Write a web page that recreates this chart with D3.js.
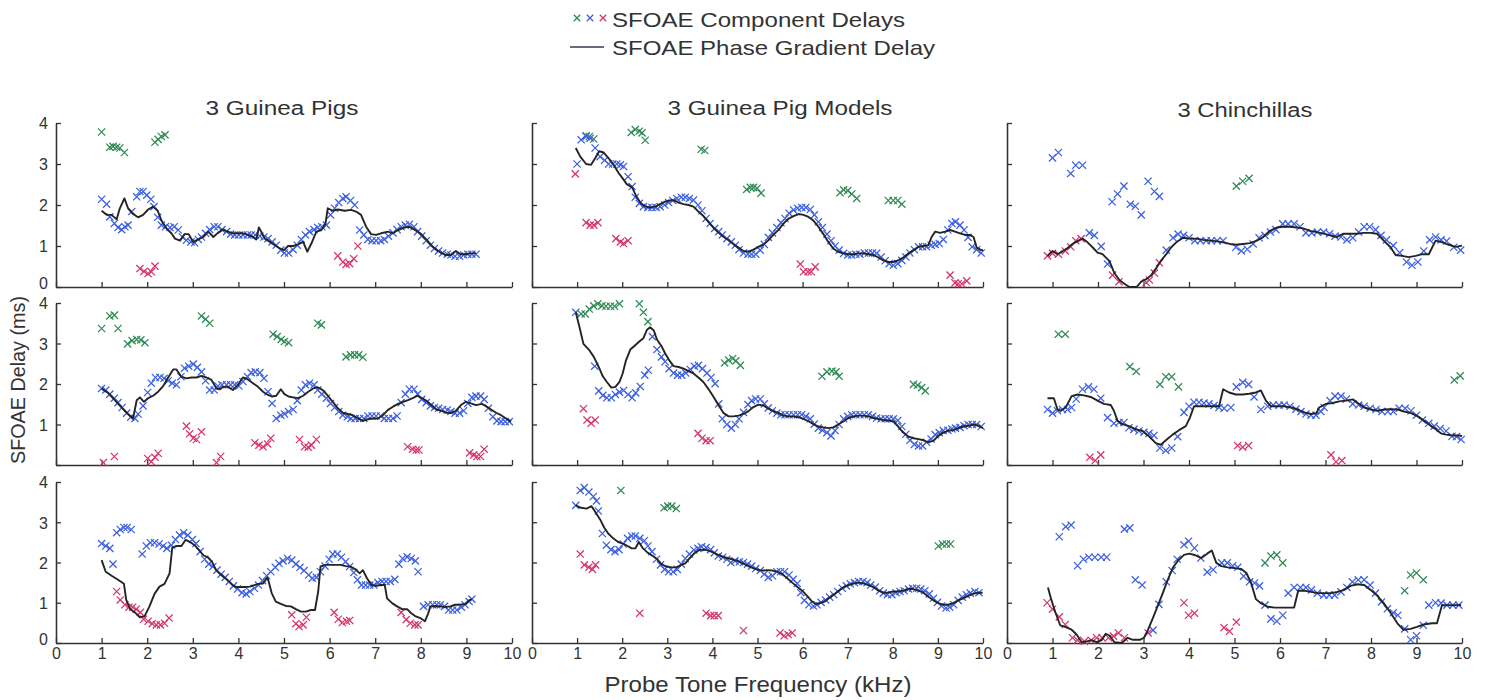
<!DOCTYPE html>
<html><head><meta charset="utf-8">
<script src="https://cdn.jsdelivr.net/npm/d3@7"></script>
<style>
html,body{margin:0;padding:0;background:#fff;}
svg{display:block;font-family:"Liberation Sans",Arial,Helvetica,sans-serif;}
</style></head>
<body><svg id="chart" width="1485" height="700"></svg>
<script>
// ---------------- DATA (frequency kHz, delay ms) ----------------
const columnTitles = ["3 Guinea Pigs", "3 Guinea Pig Models", "3 Chinchillas"];
const xTicks = [0,1,2,3,4,5,6,7,8,9,10];
const yTicks = [0,1,2,3,4];
const legendLabels = ["SFOAE Component Delays", "SFOAE Phase Gradient Delay"];
const xLabel = "Probe Tone Frequency (kHz)";
const yLabel = "SFOAE Delay (ms)";

// Row 1, Guinea Pigs
const gp1Blue = [[1.00,2.14],[1.11,2.02],[1.18,1.71],[1.28,1.55],[1.36,1.45],[1.44,1.40],[1.51,1.47],[1.58,1.51],[1.66,1.84],[1.77,2.20],[1.84,2.33],[1.91,2.33],[1.99,2.24],[2.08,2.14],[2.15,1.96],[2.23,1.70],[2.31,1.51],[2.40,1.47],[2.50,1.45],[2.59,1.47],[2.68,1.39],[2.77,1.22],[2.86,1.14],[2.96,1.10],[3.04,1.08],[3.12,1.16],[3.19,1.22],[3.28,1.31],[3.37,1.40],[3.47,1.47],[3.55,1.47],[3.64,1.40],[3.74,1.35],[3.83,1.29],[3.92,1.27],[4.01,1.27],[4.10,1.27],[4.20,1.27],[4.28,1.27],[4.37,1.27],[4.47,1.24],[4.56,1.22],[4.65,1.18],[4.74,1.10],[4.83,1.02],[4.93,0.90],[5.01,0.83],[5.10,0.83],[5.20,0.91],[5.29,1.02],[5.38,1.16],[5.47,1.27],[5.56,1.35],[5.66,1.40],[5.74,1.45],[5.83,1.47],[5.93,1.51],[6.02,1.76],[6.11,1.92],[6.20,2.06],[6.29,2.16],[6.36,2.20],[6.46,2.11],[6.55,2.00],[6.66,1.39],[6.75,1.27],[6.84,1.16],[6.93,1.13],[7.02,1.13],[7.12,1.13],[7.20,1.16],[7.29,1.24],[7.39,1.32],[7.48,1.40],[7.57,1.47],[7.66,1.51],[7.75,1.53],[7.85,1.47],[7.93,1.35],[8.02,1.24],[8.12,1.13],[8.21,1.02],[8.30,0.94],[8.39,0.88],[8.48,0.83],[8.58,0.80],[8.66,0.78],[8.75,0.75],[8.85,0.75],[8.94,0.78],[9.03,0.80],[9.12,0.80],[9.21,0.80]];
const gp1Green = [[1.00,3.78],[1.18,3.41],[1.25,3.43],[1.33,3.41],[1.40,3.39],[1.50,3.28],[2.17,3.53],[2.24,3.60],[2.31,3.67],[2.39,3.71]];
const gp1Pink = [[1.84,0.45],[1.93,0.38],[2.02,0.33],[2.09,0.37],[2.17,0.51],[6.18,0.76],[6.29,0.61],[6.36,0.55],[6.44,0.57],[6.53,0.69],[6.62,1.00]];
const gp1Line = [[1.00,1.86],[1.11,1.76],[1.22,1.76],[1.33,1.65],[1.40,1.92],[1.50,2.16],[1.58,1.92],[1.69,1.78],[1.80,1.70],[1.91,1.76],[2.02,1.89],[2.13,1.96],[2.23,1.86],[2.31,1.63],[2.42,1.43],[2.53,1.31],[2.61,1.18],[2.72,1.13],[2.82,1.29],[2.91,1.29],[3.01,1.10],[3.12,1.16],[3.23,1.22],[3.34,1.35],[3.45,1.22],[3.55,1.32],[3.66,1.40],[3.77,1.35],[3.88,1.31],[3.99,1.31],[4.10,1.31],[4.21,1.27],[4.32,1.22],[4.39,1.16],[4.45,1.45],[4.50,1.35],[4.58,1.18],[4.69,1.10],[4.80,1.02],[4.91,0.94],[5.00,0.90],[5.09,1.00],[5.20,1.00],[5.31,1.04],[5.42,1.10],[5.51,0.86],[5.60,1.06],[5.71,1.35],[5.82,1.39],[5.91,1.55],[5.96,1.92],[6.07,1.86],[6.18,1.89],[6.33,1.86],[6.47,1.88],[6.58,1.84],[6.69,1.76],[6.80,1.47],[6.91,1.29],[7.02,1.27],[7.13,1.31],[7.28,1.35],[7.39,1.31],[7.50,1.39],[7.64,1.45],[7.75,1.47],[7.86,1.40],[7.99,1.31],[8.12,1.16],[8.23,1.02],[8.34,0.91],[8.45,0.83],[8.55,0.78],[8.66,0.78],[8.77,0.88],[8.87,0.80],[8.97,0.80],[9.10,0.82],[9.21,0.82]];

// Row 1, Guinea Pig Models
const gm1Blue = [[1.00,3.00],[1.09,3.59],[1.20,3.67],[1.29,3.63],[1.40,3.39],[1.51,3.18],[1.61,3.09],[1.70,3.00],[1.79,3.00],[1.88,3.00],[1.96,2.98],[2.03,2.94],[2.13,2.69],[2.22,2.45],[2.29,2.19],[2.38,2.04],[2.47,1.96],[2.57,1.94],[2.66,1.94],[2.75,1.94],[2.84,1.96],[2.94,2.00],[3.03,2.06],[3.12,2.11],[3.21,2.16],[3.31,2.19],[3.40,2.19],[3.49,2.16],[3.58,2.12],[3.68,2.00],[3.77,1.86],[3.86,1.67],[3.95,1.55],[4.05,1.43],[4.14,1.35],[4.22,1.27],[4.32,1.18],[4.42,1.10],[4.51,1.02],[4.59,0.91],[4.69,0.83],[4.79,0.80],[4.87,0.80],[4.96,0.80],[5.06,0.90],[5.15,1.04],[5.24,1.21],[5.33,1.32],[5.43,1.45],[5.52,1.57],[5.61,1.67],[5.70,1.80],[5.80,1.88],[5.89,1.92],[5.98,1.94],[6.07,1.94],[6.17,1.89],[6.26,1.76],[6.35,1.59],[6.44,1.45],[6.54,1.29],[6.63,1.13],[6.72,1.00],[6.81,0.90],[6.91,0.82],[7.00,0.78],[7.09,0.78],[7.18,0.80],[7.27,0.80],[7.37,0.83],[7.46,0.83],[7.55,0.83],[7.64,0.82],[7.74,0.73],[7.83,0.64],[7.92,0.57],[8.01,0.53],[8.11,0.57],[8.20,0.65],[8.29,0.73],[8.38,0.83],[8.48,0.91],[8.57,0.98],[8.66,0.98],[8.75,0.98],[8.85,1.02],[8.94,1.04],[9.03,1.06],[9.12,1.16],[9.22,1.39],[9.31,1.55],[9.39,1.59],[9.49,1.51],[9.58,1.39],[9.67,1.21],[9.76,0.98],[9.86,0.91],[9.96,0.83]];
const gm1Green = [[1.20,3.69],[1.27,3.67],[1.37,3.61],[2.20,3.77],[2.29,3.84],[2.38,3.80],[2.44,3.76],[2.51,3.58],[3.75,3.36],[3.83,3.33],[4.76,2.38],[4.84,2.43],[4.91,2.43],[4.99,2.41],[5.08,2.29],[6.83,2.30],[6.91,2.37],[7.00,2.35],[7.09,2.27],[7.20,2.16],[7.90,2.11],[8.01,2.11],[8.11,2.11],[8.20,2.02]];
const gm1Pink = [[0.96,2.76],[1.20,1.57],[1.29,1.51],[1.37,1.51],[1.46,1.57],[1.86,1.18],[1.96,1.10],[2.03,1.06],[2.13,1.13],[5.95,0.56],[6.02,0.37],[6.12,0.37],[6.19,0.37],[6.28,0.49],[9.27,0.29],[9.38,0.10],[9.45,0.08],[9.53,0.08],[9.64,0.15]];
const gm1Line = [[0.97,3.39],[1.07,3.18],[1.20,3.00],[1.31,2.98],[1.40,3.14],[1.49,3.31],[1.59,3.28],[1.70,3.14],[1.81,2.98],[1.92,2.78],[2.01,2.65],[2.10,2.51],[2.22,2.43],[2.30,2.24],[2.40,2.06],[2.51,1.96],[2.62,1.94],[2.73,1.96],[2.84,2.02],[2.95,2.08],[3.04,2.11],[3.14,2.12],[3.25,2.06],[3.36,2.02],[3.47,2.00],[3.58,1.96],[3.69,1.84],[3.80,1.73],[3.91,1.59],[4.02,1.45],[4.14,1.32],[4.25,1.22],[4.36,1.14],[4.47,1.04],[4.58,0.96],[4.69,0.88],[4.80,0.86],[4.91,0.91],[5.02,0.98],[5.13,1.04],[5.24,1.14],[5.35,1.27],[5.47,1.40],[5.58,1.55],[5.69,1.67],[5.80,1.73],[5.91,1.78],[6.02,1.76],[6.13,1.71],[6.24,1.62],[6.35,1.47],[6.46,1.29],[6.57,1.10],[6.68,0.94],[6.79,0.86],[6.91,0.82],[7.02,0.80],[7.13,0.80],[7.24,0.82],[7.35,0.82],[7.46,0.80],[7.57,0.78],[7.68,0.72],[7.79,0.65],[7.90,0.61],[8.01,0.61],[8.12,0.65],[8.23,0.72],[8.35,0.82],[8.46,0.90],[8.57,0.98],[8.68,1.00],[8.79,1.02],[8.86,1.22],[8.94,1.35],[9.05,1.32],[9.16,1.35],[9.27,1.39],[9.38,1.35],[9.49,1.31],[9.60,1.27],[9.71,1.27],[9.79,1.22],[9.86,0.96],[9.96,0.90],[10.0,0.90]];

// Row 1, Chinchillas
const ch1Blue = [[1.00,3.15],[1.13,3.28],[1.40,2.77],[1.51,2.97],[1.66,2.97],[1.81,1.32],[1.92,1.26],[2.07,0.99],[2.21,0.56],[2.31,2.08],[2.43,2.27],[2.57,2.46],[2.71,2.02],[2.82,1.97],[2.95,1.76],[3.10,2.58],[3.24,2.33],[3.35,2.21],[3.50,0.90],[3.65,1.20],[3.76,1.29],[3.88,1.26],[4.00,1.20],[4.13,1.13],[4.25,1.13],[4.38,1.13],[4.49,1.13],[4.62,1.13],[4.75,1.13],[5.03,0.97],[5.15,0.88],[5.28,0.92],[5.41,1.05],[5.54,1.20],[5.67,1.26],[5.79,1.34],[5.91,1.40],[6.06,1.54],[6.18,1.54],[6.31,1.54],[6.44,1.47],[6.57,1.32],[6.70,1.32],[6.82,1.34],[6.96,1.34],[7.09,1.30],[7.21,1.24],[7.34,1.22],[7.47,1.15],[7.60,1.20],[7.73,1.34],[7.85,1.47],[7.97,1.47],[8.10,1.40],[8.22,1.26],[8.34,1.15],[8.49,1.01],[8.63,0.84],[8.78,0.61],[8.90,0.53],[9.03,0.61],[9.16,0.88],[9.29,1.15],[9.42,1.22],[9.54,1.15],[9.66,1.12],[9.82,0.97],[9.97,0.90]];
const ch1Green = [[5.04,2.46],[5.18,2.58],[5.32,2.65]];
const ch1Pink = [[0.89,0.76],[1.00,0.82],[1.13,0.80],[1.28,0.88],[1.40,0.98],[1.51,1.13],[1.63,1.18],[2.32,0.29],[2.46,0.13],[3.06,0.11],[3.13,0.17],[3.24,0.34],[3.35,0.59]];
const ch1Line = [[0.89,0.76],[1.00,0.88],[1.11,0.80],[1.22,0.87],[1.33,0.95],[1.44,1.05],[1.55,1.12],[1.66,1.18],[1.77,1.09],[1.88,0.97],[1.99,0.84],[2.10,0.80],[2.18,0.71],[2.25,0.63],[2.36,0.34],[2.47,0.17],[2.58,0.08],[2.69,0.00],[2.85,0.00],[2.95,0.13],[3.06,0.19],[3.17,0.29],[3.28,0.46],[3.39,0.65],[3.50,0.80],[3.61,0.97],[3.72,1.09],[3.87,1.20],[4.01,1.18],[4.16,1.18],[4.31,1.15],[4.46,1.13],[4.60,1.12],[4.75,1.09],[4.90,1.05],[5.04,1.03],[5.19,1.05],[5.34,1.07],[5.49,1.13],[5.63,1.22],[5.78,1.37],[5.93,1.45],[6.07,1.47],[6.22,1.47],[6.37,1.45],[6.51,1.43],[6.66,1.37],[6.81,1.34],[6.96,1.30],[7.10,1.26],[7.25,1.22],[7.40,1.30],[7.54,1.30],[7.69,1.30],[7.84,1.32],[7.99,1.32],[8.13,1.30],[8.28,1.13],[8.43,0.97],[8.54,0.78],[8.68,0.76],[8.83,0.73],[8.98,0.76],[9.13,0.80],[9.27,0.80],[9.42,1.13],[9.57,1.09],[9.71,1.03],[9.86,0.98],[10.0,1.01]];

// Row 2, Guinea Pigs
const gp2Blue = [[1.00,1.89],[1.09,1.85],[1.18,1.75],[1.28,1.65],[1.36,1.54],[1.45,1.42],[1.55,1.28],[1.64,1.18],[1.73,1.15],[1.80,1.26],[1.91,1.46],[2.01,1.79],[2.09,2.02],[2.18,2.16],[2.28,2.16],[2.37,2.14],[2.46,2.08],[2.55,2.02],[2.64,1.98],[2.74,2.18],[2.82,2.39],[2.91,2.44],[3.01,2.49],[3.10,2.41],[3.19,2.30],[3.28,2.08],[3.37,1.85],[3.47,1.85],[3.55,1.95],[3.64,1.98],[3.74,1.98],[3.83,1.98],[3.92,1.98],[4.01,1.95],[4.10,2.06],[4.20,2.18],[4.28,2.28],[4.37,2.30],[4.47,2.28],[4.56,2.14],[4.65,1.81],[4.74,1.52],[4.83,1.15],[4.93,1.23],[5.01,1.26],[5.10,1.32],[5.20,1.37],[5.29,1.59],[5.38,1.85],[5.47,1.98],[5.56,2.02],[5.66,1.98],[5.74,1.85],[5.83,1.75],[5.93,1.65],[6.02,1.52],[6.11,1.42],[6.20,1.32],[6.29,1.23],[6.39,1.19],[6.47,1.15],[6.56,1.15],[6.66,1.15],[6.75,1.15],[6.84,1.21],[6.93,1.21],[7.02,1.21],[7.12,1.21],[7.20,1.15],[7.29,1.15],[7.39,1.15],[7.48,1.21],[7.57,1.54],[7.66,1.75],[7.75,1.87],[7.85,1.87],[7.93,1.75],[8.02,1.62],[8.12,1.54],[8.21,1.46],[8.30,1.42],[8.39,1.40],[8.48,1.37],[8.58,1.36],[8.66,1.32],[8.75,1.28],[8.85,1.28],[8.94,1.34],[9.03,1.52],[9.12,1.67],[9.21,1.70],[9.31,1.70],[9.39,1.62],[9.48,1.40],[9.58,1.19],[9.67,1.09],[9.76,1.07],[9.85,1.07],[9.94,1.07]];
const gp2Green = [[1.00,3.37],[1.18,3.68],[1.28,3.70],[1.36,3.37],[1.57,2.99],[1.67,3.07],[1.77,3.10],[1.86,3.09],[1.95,3.02],[3.19,3.68],[3.28,3.60],[3.37,3.50],[4.76,3.23],[4.85,3.17],[4.94,3.10],[5.01,3.05],[5.10,3.02],[5.74,3.50],[5.82,3.46],[6.36,2.67],[6.46,2.72],[6.55,2.72],[6.64,2.72],[6.73,2.66]];
const gp2Pink = [[1.04,0.06],[1.28,0.21],[2.01,0.16],[2.09,0.08],[2.17,0.19],[2.24,0.29],[2.86,0.96],[2.93,0.77],[3.01,0.66],[3.08,0.63],[3.19,0.82],[3.52,0.06],[3.61,0.21],[4.36,0.55],[4.45,0.49],[4.54,0.45],[4.64,0.52],[4.71,0.66],[5.34,0.63],[5.45,0.45],[5.53,0.44],[5.60,0.49],[5.71,0.63],[7.71,0.45],[7.82,0.39],[7.90,0.37],[7.96,0.37],[9.07,0.30],[9.16,0.25],[9.23,0.21],[9.31,0.21],[9.39,0.39]];
const gp2Line = [[1.00,1.89],[1.15,1.77],[1.29,1.60],[1.44,1.42],[1.58,1.26],[1.69,1.15],[1.77,1.60],[1.84,1.67],[1.93,1.56],[2.02,1.65],[2.13,1.71],[2.24,1.81],[2.35,1.95],[2.46,2.16],[2.57,2.36],[2.64,2.36],[2.75,2.18],[2.86,2.14],[2.97,2.16],[3.08,2.16],[3.19,2.20],[3.30,2.16],[3.41,2.10],[3.52,1.89],[3.59,1.87],[3.66,1.93],[3.77,1.93],[3.88,1.85],[3.99,1.98],[4.10,2.16],[4.20,2.12],[4.32,2.02],[4.43,1.93],[4.54,1.81],[4.65,1.73],[4.74,1.69],[4.83,1.71],[4.93,1.87],[5.01,1.75],[5.10,1.69],[5.20,1.67],[5.31,1.65],[5.42,1.71],[5.53,1.81],[5.64,1.89],[5.74,1.92],[5.85,1.85],[5.96,1.71],[6.07,1.56],[6.18,1.40],[6.29,1.29],[6.40,1.26],[6.51,1.23],[6.62,1.15],[6.73,1.09],[6.84,1.13],[6.95,1.15],[7.06,1.15],[7.17,1.23],[7.28,1.36],[7.39,1.44],[7.50,1.51],[7.61,1.56],[7.72,1.60],[7.82,1.65],[7.93,1.71],[8.02,1.65],[8.12,1.59],[8.23,1.48],[8.34,1.37],[8.45,1.34],[8.55,1.29],[8.66,1.28],[8.77,1.34],[8.88,1.48],[8.99,1.56],[9.10,1.52],[9.21,1.48],[9.34,1.51],[9.42,1.46],[9.54,1.37],[9.65,1.29],[9.76,1.23],[9.87,1.15],[9.98,1.07]];

// Row 2, Guinea Pig Models
const gm2Blue = [[0.97,3.77],[1.39,2.44],[1.48,1.83],[1.57,1.72],[1.66,1.66],[1.76,1.66],[1.85,1.74],[1.94,1.80],[2.03,1.84],[2.13,1.74],[2.22,1.66],[2.30,1.78],[2.40,1.94],[2.50,2.22],[2.58,2.34],[2.67,3.17],[2.77,2.85],[2.87,2.67],[2.95,2.55],[3.04,2.38],[3.14,2.27],[3.23,2.22],[3.32,2.22],[3.41,2.27],[3.51,2.36],[3.60,2.44],[3.69,2.46],[3.78,2.38],[3.88,2.27],[3.97,2.16],[4.06,2.01],[4.14,1.51],[4.22,1.14],[4.32,1.00],[4.42,0.91],[4.51,1.00],[4.59,1.14],[4.69,1.30],[4.79,1.49],[4.87,1.59],[4.96,1.63],[5.06,1.63],[5.15,1.51],[5.24,1.41],[5.33,1.34],[5.43,1.28],[5.52,1.24],[5.61,1.24],[5.70,1.24],[5.80,1.24],[5.89,1.24],[5.98,1.24],[6.07,1.20],[6.17,1.14],[6.26,1.01],[6.35,0.91],[6.44,0.86],[6.54,0.80],[6.63,0.72],[6.72,0.85],[6.81,1.00],[6.91,1.14],[7.00,1.20],[7.09,1.24],[7.18,1.24],[7.27,1.24],[7.37,1.24],[7.46,1.24],[7.55,1.20],[7.64,1.16],[7.74,1.14],[7.83,1.14],[7.92,1.14],[8.01,1.14],[8.11,1.10],[8.20,0.95],[8.29,0.76],[8.38,0.61],[8.48,0.51],[8.57,0.47],[8.66,0.47],[8.75,0.56],[8.85,0.64],[8.94,0.75],[9.03,0.80],[9.12,0.85],[9.22,0.86],[9.31,0.89],[9.39,0.91],[9.49,0.93],[9.58,0.97],[9.67,1.00],[9.76,1.00],[9.86,1.00],[9.96,0.95]];
const gm2Green = [[1.09,3.73],[1.18,3.73],[1.27,3.85],[1.37,3.93],[1.46,3.98],[1.55,3.93],[1.64,3.92],[1.74,3.92],[1.83,3.92],[1.94,3.98],[2.38,3.98],[2.47,3.77],[2.57,3.54],[4.27,2.52],[4.36,2.59],[4.45,2.63],[4.52,2.57],[4.62,2.46],[6.43,2.19],[6.54,2.30],[6.65,2.32],[6.74,2.30],[6.81,2.19],[8.46,1.99],[8.55,1.97],[8.64,1.91],[8.72,1.83]];
const gm2Pink = [[1.14,1.39],[1.22,1.11],[1.31,1.03],[1.40,1.11],[3.68,0.78],[3.77,0.66],[3.86,0.60],[3.95,0.60]];
const gm2Line = [[0.97,3.77],[1.05,3.42],[1.14,2.99],[1.26,2.85],[1.37,2.67],[1.48,2.42],[1.57,2.19],[1.66,2.05],[1.76,1.91],[1.85,1.93],[1.94,2.05],[2.01,2.26],[2.08,2.57],[2.18,2.85],[2.27,2.94],[2.38,3.05],[2.47,3.13],[2.55,3.34],[2.62,3.40],[2.70,3.32],[2.77,3.10],[2.87,2.94],[2.95,2.76],[3.04,2.59],[3.14,2.44],[3.25,2.42],[3.36,2.38],[3.47,2.32],[3.58,2.26],[3.69,2.16],[3.80,2.05],[3.91,1.88],[4.02,1.69],[4.14,1.47],[4.25,1.28],[4.36,1.20],[4.47,1.20],[4.58,1.22],[4.69,1.26],[4.80,1.33],[4.91,1.43],[5.02,1.49],[5.13,1.47],[5.24,1.39],[5.35,1.33],[5.47,1.28],[5.58,1.22],[5.69,1.20],[5.80,1.20],[5.91,1.18],[6.02,1.14],[6.13,1.08],[6.24,1.01],[6.35,0.95],[6.46,0.93],[6.57,0.91],[6.68,0.93],[6.79,1.00],[6.91,1.08],[7.02,1.16],[7.13,1.20],[7.24,1.22],[7.35,1.22],[7.46,1.20],[7.57,1.16],[7.68,1.14],[7.79,1.11],[7.90,1.10],[8.01,1.08],[8.12,0.95],[8.23,0.80],[8.35,0.70],[8.46,0.66],[8.57,0.64],[8.68,0.61],[8.79,0.56],[8.90,0.60],[9.01,0.72],[9.12,0.80],[9.23,0.85],[9.34,0.86],[9.45,0.91],[9.56,0.95],[9.68,0.97],[9.79,1.00],[9.90,0.97],[10.0,0.91]];

// Row 2, Chinchillas
const ch2Blue = [[0.89,1.37],[1.00,1.28],[1.11,1.34],[1.22,1.37],[1.33,1.37],[1.42,1.42],[1.52,1.63],[1.66,1.87],[1.79,1.93],[1.91,1.87],[2.06,1.65],[2.21,1.17],[2.35,1.03],[2.46,1.05],[2.57,1.05],[2.68,0.92],[2.79,0.88],[2.90,0.84],[3.01,0.81],[3.12,0.78],[3.23,0.73],[3.36,0.42],[3.49,0.36],[3.62,0.42],[3.75,0.70],[3.89,1.30],[4.00,1.45],[4.11,1.55],[4.22,1.55],[4.33,1.53],[4.44,1.51],[4.55,1.47],[4.66,1.42],[4.77,1.40],[4.92,1.42],[5.04,1.93],[5.18,2.04],[5.31,1.99],[5.43,1.68],[5.58,1.37],[5.73,1.45],[5.85,1.48],[5.98,1.48],[6.09,1.48],[6.22,1.45],[6.35,1.38],[6.46,1.32],[6.57,1.26],[6.68,1.23],[6.79,1.23],[6.90,1.32],[6.97,1.42],[7.10,1.59],[7.21,1.70],[7.34,1.70],[7.46,1.63],[7.60,1.51],[7.73,1.48],[7.85,1.45],[7.98,1.40],[8.11,1.37],[8.24,1.32],[8.37,1.32],[8.49,1.32],[8.62,1.40],[8.75,1.40],[8.88,1.34],[9.00,1.23],[9.13,1.11],[9.27,1.03],[9.39,0.96],[9.52,0.90],[9.65,0.84],[9.78,0.71],[9.88,0.70],[9.98,0.63]];
const ch2Green = [[1.13,3.23],[1.28,3.23],[2.70,2.43],[2.84,2.31],[3.36,1.99],[3.49,2.18],[3.62,2.18],[3.77,1.93],[9.83,2.10],[9.96,2.20]];
const ch2Pink = [[1.82,0.19],[1.94,0.11],[2.06,0.25],[5.07,0.48],[5.18,0.44],[5.31,0.48],[7.12,0.25],[7.23,0.08],[7.36,0.11]];
const ch2Line = [[0.89,1.65],[1.03,1.65],[1.11,1.37],[1.18,1.34],[1.29,1.42],[1.42,1.70],[1.55,1.74],[1.69,1.72],[1.84,1.68],[1.99,1.59],[2.13,1.51],[2.28,1.48],[2.35,1.34],[2.43,1.09],[2.54,1.01],[2.68,0.96],[2.83,0.88],[2.98,0.84],[3.12,0.71],[3.27,0.54],[3.38,0.50],[3.53,0.65],[3.64,0.75],[3.78,0.86],[3.93,0.96],[4.02,1.17],[4.11,1.45],[4.26,1.45],[4.41,1.45],[4.55,1.45],[4.66,1.45],[4.75,1.87],[4.88,1.79],[5.03,1.74],[5.18,1.74],[5.32,1.76],[5.47,1.79],[5.58,1.84],[5.69,1.59],[5.80,1.45],[5.95,1.45],[6.09,1.45],[6.24,1.42],[6.39,1.37],[6.53,1.30],[6.68,1.26],[6.80,1.28],[6.86,1.42],[7.01,1.51],[7.16,1.53],[7.30,1.57],[7.45,1.59],[7.60,1.62],[7.71,1.53],[7.85,1.42],[8.00,1.37],[8.15,1.34],[8.29,1.37],[8.44,1.38],[8.59,1.37],[8.73,1.32],[8.88,1.28],[9.03,1.20],[9.17,1.09],[9.32,0.96],[9.43,0.88],[9.54,0.78],[9.65,0.75],[9.79,0.73],[9.94,0.73],[10.0,0.71]];

// Row 3, Guinea Pigs
const gp3Blue = [[1.00,2.47],[1.09,2.41],[1.18,2.35],[1.25,1.96],[1.33,2.74],[1.41,2.82],[1.49,2.87],[1.56,2.87],[1.65,2.82],[1.89,2.21],[1.98,2.41],[2.07,2.49],[2.16,2.49],[2.26,2.46],[2.35,2.41],[2.43,2.35],[2.53,2.43],[2.62,2.57],[2.71,2.68],[2.80,2.74],[2.89,2.68],[2.99,2.57],[3.07,2.47],[3.16,2.27],[3.26,2.08],[3.35,1.96],[3.44,1.90],[3.53,1.81],[3.62,1.71],[3.71,1.63],[3.80,1.53],[3.89,1.42],[3.98,1.34],[4.08,1.25],[4.17,1.22],[4.25,1.28],[4.35,1.36],[4.44,1.44],[4.53,1.55],[4.62,1.67],[4.71,1.77],[4.81,1.88],[4.89,1.98],[4.98,2.04],[5.08,2.10],[5.17,2.06],[5.26,1.96],[5.35,1.88],[5.44,1.80],[5.54,1.69],[5.62,1.61],[5.71,1.63],[5.80,1.77],[5.90,1.91],[5.99,2.08],[6.07,2.21],[6.17,2.21],[6.26,2.13],[6.35,2.02],[6.44,1.90],[6.53,1.75],[6.61,1.57],[6.70,1.44],[6.79,1.44],[6.88,1.44],[6.97,1.44],[7.06,1.50],[7.15,1.53],[7.24,1.53],[7.33,1.53],[7.43,1.58],[7.52,1.96],[7.60,2.10],[7.70,2.14],[7.79,2.10],[7.88,2.04],[7.94,1.77],[8.06,0.91],[8.16,0.95],[8.26,0.95],[8.35,0.95],[8.43,0.95],[8.52,0.91],[8.61,0.82],[8.70,0.82],[8.79,0.82],[8.89,0.89],[8.97,0.95],[9.06,1.03],[9.12,1.09]];
const gp3Green = [];
const gp3Pink = [[1.33,1.28],[1.41,1.07],[1.51,0.95],[1.60,0.89],[1.68,0.89],[1.76,0.84],[1.85,0.76],[1.92,0.59],[2.02,0.54],[2.11,0.48],[2.20,0.45],[2.29,0.45],[2.38,0.49],[2.48,0.62],[5.17,0.70],[5.26,0.48],[5.33,0.41],[5.42,0.45],[5.49,0.64],[6.10,0.76],[6.19,0.59],[6.28,0.51],[6.37,0.54],[6.44,0.56],[7.57,0.76],[7.68,0.58],[7.77,0.49],[7.87,0.45],[7.94,0.45]];
const gp3Line = [[1.00,2.06],[1.09,1.77],[1.22,1.67],[1.36,1.57],[1.49,1.47],[1.54,1.07],[1.63,0.84],[1.73,0.76],[1.84,0.64],[1.94,0.66],[2.05,0.91],[2.16,1.22],[2.27,1.40],[2.38,1.47],[2.49,1.73],[2.55,2.37],[2.64,2.41],[2.75,2.41],[2.84,2.56],[2.94,2.51],[3.04,2.43],[3.13,2.32],[3.23,2.18],[3.33,2.13],[3.42,2.02],[3.51,1.81],[3.60,1.71],[3.69,1.63],[3.79,1.53],[3.87,1.44],[3.96,1.39],[4.06,1.39],[4.15,1.39],[4.25,1.40],[4.35,1.44],[4.44,1.47],[4.54,1.48],[4.64,1.63],[4.73,1.24],[4.82,1.03],[4.93,0.97],[5.04,0.92],[5.15,0.91],[5.26,0.84],[5.37,0.78],[5.48,0.78],[5.59,0.82],[5.68,0.82],[5.75,1.28],[5.80,1.90],[5.91,1.94],[6.02,1.94],[6.13,1.94],[6.24,1.94],[6.35,1.91],[6.46,1.90],[6.57,1.83],[6.66,1.73],[6.73,1.81],[6.82,1.61],[6.92,1.44],[7.02,1.42],[7.12,1.44],[7.21,1.44],[7.26,1.11],[7.37,0.99],[7.48,0.91],[7.59,0.84],[7.70,0.84],[7.79,0.74],[7.89,0.66],[7.99,0.62],[8.09,0.54],[8.16,0.73],[8.21,0.91],[8.32,0.92],[8.43,0.91],[8.53,0.89],[8.65,0.91],[8.75,0.95],[8.86,0.95],[8.97,0.97],[9.06,1.06],[9.12,1.09]];

// Row 3, Guinea Pig Models
const gm3Blue = [[0.97,3.42],[1.07,3.79],[1.16,3.86],[1.26,3.75],[1.36,3.64],[1.43,3.53],[1.47,3.28],[1.56,2.72],[1.65,2.43],[1.75,2.32],[1.84,2.27],[1.93,2.32],[2.02,2.46],[2.12,2.60],[2.21,2.66],[2.29,2.66],[2.39,2.60],[2.49,2.54],[2.57,2.41],[2.66,2.27],[2.76,2.08],[2.85,1.94],[2.94,1.83],[3.03,1.77],[3.13,1.77],[3.22,1.83],[3.31,1.96],[3.40,2.10],[3.49,2.21],[3.59,2.31],[3.68,2.35],[3.76,2.39],[3.86,2.37],[3.96,2.32],[4.04,2.24],[4.13,2.16],[4.23,2.13],[4.32,2.08],[4.41,2.00],[4.50,2.04],[4.60,2.02],[4.69,2.00],[4.78,1.96],[4.87,1.91],[4.96,1.85],[5.06,1.80],[5.15,1.71],[5.24,1.63],[5.33,1.67],[5.43,1.77],[5.51,1.77],[5.60,1.77],[5.70,1.69],[5.79,1.58],[5.88,1.48],[5.96,1.25],[6.04,1.06],[6.14,0.95],[6.24,0.92],[6.32,0.95],[6.41,1.01],[6.51,1.07],[6.60,1.14],[6.69,1.20],[6.78,1.28],[6.88,1.36],[6.97,1.42],[7.06,1.47],[7.15,1.50],[7.24,1.53],[7.34,1.53],[7.43,1.50],[7.51,1.44],[7.61,1.39],[7.71,1.30],[7.79,1.24],[7.88,1.20],[7.98,1.20],[8.07,1.25],[8.16,1.28],[8.25,1.30],[8.35,1.34],[8.44,1.36],[8.53,1.36],[8.62,1.34],[8.71,1.30],[8.81,1.22],[8.90,1.11],[8.99,1.01],[9.08,0.92],[9.18,0.87],[9.26,0.89],[9.35,0.95],[9.45,1.06],[9.54,1.14],[9.63,1.20],[9.72,1.24],[9.82,1.28],[9.91,1.25]];
const gm3Green = [[1.97,3.79],[2.93,3.36],[3.01,3.40],[3.10,3.40],[3.20,3.34],[9.01,2.41],[9.10,2.46],[9.19,2.46],[9.28,2.46]];
const gm3Pink = [[1.07,2.21],[1.16,1.94],[1.26,1.88],[1.34,1.83],[1.41,1.94],[2.39,0.74],[3.86,0.74],[3.96,0.68],[4.04,0.68],[4.13,0.68],[4.69,0.31],[5.50,0.25],[5.59,0.18],[5.68,0.21],[5.77,0.25]];
const gm3Line = [[0.97,3.42],[1.09,3.36],[1.21,3.34],[1.32,3.40],[1.40,3.26],[1.51,3.07],[1.60,2.87],[1.69,2.72],[1.80,2.60],[1.91,2.51],[2.02,2.47],[2.12,2.41],[2.21,2.35],[2.29,2.35],[2.37,2.51],[2.46,2.35],[2.57,2.24],[2.68,2.16],[2.78,2.08],[2.87,1.96],[2.98,1.90],[3.09,1.88],[3.20,1.88],[3.31,1.94],[3.40,1.98],[3.49,2.10],[3.60,2.23],[3.71,2.31],[3.82,2.32],[3.93,2.29],[4.04,2.24],[4.15,2.18],[4.26,2.13],[4.38,2.10],[4.49,2.06],[4.60,2.02],[4.71,1.96],[4.82,1.90],[4.93,1.85],[5.04,1.81],[5.13,1.80],[5.22,1.81],[5.33,1.80],[5.44,1.77],[5.55,1.71],[5.66,1.61],[5.77,1.50],[5.88,1.40],[5.99,1.30],[6.10,1.17],[6.21,1.03],[6.29,0.97],[6.38,0.99],[6.49,1.03],[6.58,1.11],[6.69,1.20],[6.80,1.30],[6.91,1.39],[7.02,1.44],[7.13,1.48],[7.24,1.50],[7.35,1.48],[7.46,1.44],[7.57,1.39],[7.68,1.30],[7.79,1.25],[7.90,1.25],[8.01,1.28],[8.13,1.28],[8.24,1.30],[8.35,1.34],[8.46,1.34],[8.57,1.30],[8.68,1.25],[8.79,1.15],[8.90,1.06],[9.01,0.99],[9.12,0.95],[9.23,0.95],[9.34,0.99],[9.45,1.06],[9.56,1.11],[9.67,1.17],[9.78,1.22],[9.89,1.25],[9.99,1.25]];

// Row 3, Chinchillas
const ch3Blue = [[1.15,2.64],[1.29,2.89],[1.41,2.93],[1.55,1.92],[1.68,2.08],[1.80,2.13],[1.93,2.13],[2.07,2.13],[2.19,2.13],[2.58,2.83],[2.70,2.86],[2.82,1.57],[2.97,1.44],[3.21,0.32],[3.34,0.96],[3.50,1.52],[3.63,1.80],[3.74,2.08],[3.89,2.44],[3.99,2.53],[4.12,2.36],[4.26,2.11],[4.40,1.76],[4.53,1.82],[4.72,1.99],[4.84,1.99],[4.96,1.92],[5.07,1.88],[5.20,1.66],[5.33,1.52],[5.44,1.49],[5.55,1.42],[5.67,0.94],[5.80,0.60],[5.93,0.54],[6.06,0.69],[6.18,1.24],[6.31,1.38],[6.45,1.38],[6.57,1.38],[6.69,1.32],[6.82,1.24],[6.96,1.19],[7.08,1.19],[7.20,1.19],[7.34,1.27],[7.47,1.38],[7.59,1.52],[7.72,1.57],[7.85,1.57],[7.98,1.44],[8.10,1.24],[8.23,1.02],[8.36,0.85],[8.49,0.75],[8.59,0.69],[8.74,0.35],[8.87,0.08],[9.00,0.18],[9.15,0.44],[9.27,0.94],[9.42,1.00],[9.54,0.99],[9.67,0.94],[9.80,0.94],[9.93,0.94]];
const ch3Green = [[5.67,1.99],[5.80,2.16],[5.93,2.19],[6.06,1.99],[8.74,1.30],[8.87,1.69],[9.00,1.74],[9.15,1.57]];
const ch3Pink = [[0.88,1.00],[1.00,0.84],[1.15,0.65],[1.28,0.46],[1.44,0.13],[1.55,0.07],[1.70,0.04],[1.85,0.07],[1.97,0.13],[2.09,0.13],[2.23,0.13],[2.34,0.17],[2.45,0.25],[2.58,0.13],[3.10,0.25],[3.89,1.00],[3.99,0.69],[4.12,0.74],[4.77,0.38],[4.89,0.29],[5.04,0.52]];
const ch3Line = [[0.90,1.38],[0.97,1.09],[1.06,0.77],[1.17,0.44],[1.28,0.40],[1.42,0.33],[1.53,0.21],[1.64,0.02],[1.75,0.04],[1.86,0.07],[1.97,0.02],[2.08,0.07],[2.17,0.23],[2.26,0.18],[2.36,0.02],[2.52,0.00],[2.65,0.13],[2.77,0.08],[2.92,0.08],[3.01,0.13],[3.10,0.33],[3.21,0.63],[3.32,0.94],[3.43,1.26],[3.54,1.59],[3.65,1.88],[3.76,2.05],[3.89,2.19],[4.01,2.22],[4.14,2.18],[4.27,2.11],[4.40,2.22],[4.50,2.30],[4.60,1.99],[4.71,1.91],[4.85,1.88],[5.00,1.86],[5.15,1.84],[5.26,1.74],[5.36,1.51],[5.47,1.09],[5.58,0.99],[5.73,0.90],[5.88,0.88],[6.02,0.88],[6.17,0.88],[6.31,0.88],[6.40,1.30],[6.53,1.30],[6.68,1.27],[6.82,1.24],[6.97,1.24],[7.12,1.24],[7.26,1.27],[7.41,1.32],[7.55,1.42],[7.70,1.46],[7.85,1.44],[7.99,1.32],[8.14,1.17],[8.28,0.99],[8.43,0.75],[8.58,0.49],[8.71,0.33],[8.87,0.35],[9.01,0.40],[9.16,0.46],[9.34,0.49],[9.45,0.49],[9.56,0.94],[9.71,0.94],[9.85,0.94],[9.98,0.94]];

// ---------------- LAYOUT / STYLE ----------------
const colors = {green:"#2f8a55", blue:"#3b5fe0", pink:"#d6336e", line:"#242424", axis:"#333", text:"#333"};
const colX = [[56,512],[532,983],[1007,1462]];
const rowY = [[287,123],[465,303],[643,482]];
const titlePos = [[282,115,153],[780,115,225],[1245,117,135]];

const panels = [
  {r:0,c:0,blue:gp1Blue,green:gp1Green,pink:gp1Pink,line:gp1Line},
  {r:0,c:1,blue:gm1Blue,green:gm1Green,pink:gm1Pink,line:gm1Line},
  {r:0,c:2,blue:ch1Blue,green:ch1Green,pink:ch1Pink,line:ch1Line},
  {r:1,c:0,blue:gp2Blue,green:gp2Green,pink:gp2Pink,line:gp2Line},
  {r:1,c:1,blue:gm2Blue,green:gm2Green,pink:gm2Pink,line:gm2Line},
  {r:1,c:2,blue:ch2Blue,green:ch2Green,pink:ch2Pink,line:ch2Line},
  {r:2,c:0,blue:gp3Blue,green:gp3Green,pink:gp3Pink,line:gp3Line},
  {r:2,c:1,blue:gm3Blue,green:gm3Green,pink:gm3Pink,line:gm3Line},
  {r:2,c:2,blue:ch3Blue,green:ch3Green,pink:ch3Pink,line:ch3Line}
];

const svg = d3.select("#chart");
const xMark = s => `M${-s},${-s}L${s},${s}M${-s},${s}L${s},${-s}`;

panels.forEach(p => {
  const x = d3.scaleLinear().domain([0,10]).range(colX[p.c]);
  const y = d3.scaleLinear().domain([0,4]).range(rowY[p.r]);
  const g = svg.append("g");

  const xAxis = d3.axisBottom(x).tickValues(xTicks).tickSizeInner(-5).tickSizeOuter(0).tickPadding(5)
    .tickFormat(p.r === 2 ? d3.format("d") : () => "");
  const yAxis = d3.axisLeft(y).tickValues(yTicks).tickSizeInner(-5).tickSizeOuter(0).tickPadding(8)
    .tickFormat(d => (p.c === 0 && !(p.r === 1 && d === 0)) ? d : "");

  const gx = g.append("g").attr("transform", `translate(0,${rowY[p.r][0]})`).call(xAxis);
  const gy = g.append("g").attr("transform", `translate(${colX[p.c][0]},0)`).call(yAxis);
  [gx, gy].forEach(a => {
    a.select(".domain").attr("stroke", colors.axis).attr("stroke-width", 1.6);
    a.selectAll(".tick line").attr("stroke", colors.axis).attr("stroke-width", 1.3);
    a.selectAll(".tick text").attr("fill", colors.text).style("font-size", "16px")
      .style("font-family", "'Liberation Sans', Arial, sans-serif");
  });
  // zero labels sit slightly above the axis, as in the reference
  gy.selectAll(".tick text").attr("dy", d => d === 0 ? "0.1em" : "0.36em");

  const series = [["green", p.green], ["blue", p.blue], ["pink", p.pink]];
  series.forEach(([name, data]) => {
    g.append("g").selectAll("path").data(data).join("path")
      .attr("d", xMark(3.6))
      .attr("transform", d => `translate(${x(d[0])},${y(d[1])})`)
      .attr("fill", "none").attr("stroke", colors[name]).attr("stroke-width", 1.25);
  });

  g.append("path").datum(p.line)
    .attr("d", d3.line().x(d => x(d[0])).y(d => y(d[1])))
    .attr("fill", "none").attr("stroke", colors.line).attr("stroke-width", 1.9)
    .attr("stroke-linejoin", "round");
});

// Column titles
columnTitles.forEach((t, i) => {
  svg.append("text").attr("x", titlePos[i][0]).attr("y", titlePos[i][1])
    .attr("text-anchor", "middle").attr("fill", colors.text)
    .attr("textLength", titlePos[i][2]).attr("lengthAdjust", "spacingAndGlyphs")
    .style("font-size", "20px").text(t);
});

// Axis labels
svg.append("text").attr("x", 758).attr("y", 692).attr("text-anchor", "middle")
  .attr("fill", colors.text).attr("textLength", 307).attr("lengthAdjust", "spacingAndGlyphs")
  .style("font-size", "22px").text(xLabel);
svg.append("text").attr("transform", "translate(25,380) rotate(-90)").attr("text-anchor", "middle")
  .attr("fill", colors.text).attr("textLength", 168).attr("lengthAdjust", "spacingAndGlyphs")
  .style("font-size", "20px").text(yLabel);

// Legend
const leg = svg.append("g");
[["green",577],["blue",590],["pink",603]].forEach(([c, lx]) => {
  leg.append("path").attr("d", xMark(3.2)).attr("transform", `translate(${lx},18)`)
    .attr("fill", "none").attr("stroke", colors[c]).attr("stroke-width", 1.3);
});
leg.append("line").attr("x1", 570).attr("x2", 604).attr("y1", 47).attr("y2", 47)
  .attr("stroke", "#3a3a55").attr("stroke-width", 1.6);
leg.append("text").attr("x", 612).attr("y", 27).attr("fill", colors.text)
  .attr("textLength", 293).attr("lengthAdjust", "spacingAndGlyphs")
  .style("font-size", "21px").text(legendLabels[0]);
leg.append("text").attr("x", 612).attr("y", 55).attr("fill", colors.text)
  .attr("textLength", 323).attr("lengthAdjust", "spacingAndGlyphs")
  .style("font-size", "21px").text(legendLabels[1]);
</script>
</body></html>
